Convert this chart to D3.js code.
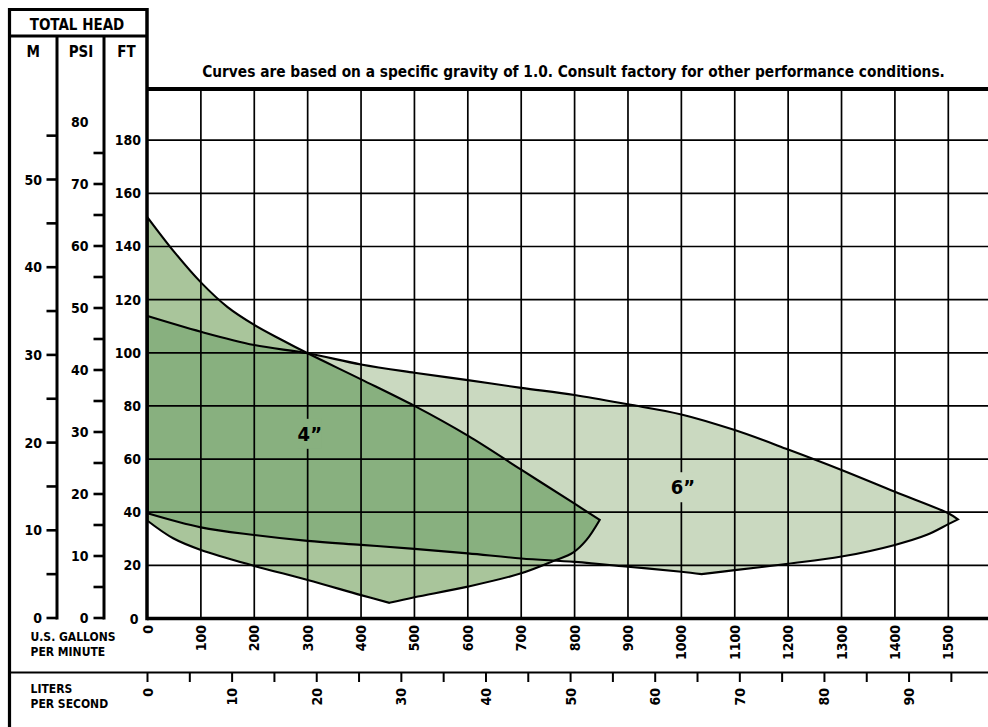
<!DOCTYPE html>
<html><head><meta charset="utf-8">
<script src="https://cdn.jsdelivr.net/npm/d3@7"></script>
<style>
html,body{margin:0;padding:0;background:#fff;}
svg{display:block;}
</style></head>
<body>
<svg id="chart" width="988" height="727"></svg>
<script>
// ---------- data ----------
const gpmTicks = [0,100,200,300,400,500,600,700,800,900,1000,1100,1200,1300,1400,1500];
const ftTicks = [0,20,40,60,80,100,120,140,160,180];
const ftGrid = [20,40,60,80,100,120,140,160,180];
const mTicks = [0,5,10,15,20,25,30,35,40,45,50,55];
const mLabels = [0,10,20,30,40,50];
const psiTicks = [0,5,10,15,20,25,30,35,40,45,50,55,60,65,70,75];
const psiLabels = [0,10,20,30,40,50,60,70,80];
const lpsTicks = [0,5,10,15,20,25,30,35,40,45,50,55,60,65,70,75,80,85,90,95];
const lpsLabels = [0,10,20,30,40,50,60,70,80,90];
const GPM_PER_LPS = 15.85;

// 4" pump range (gpm, ft)
const pump4Upper = [[0,151],[50,138],[100,126.5],[150,117.2],[200,110.5],[250,105],[300,99.8],[400,90],[500,80],[600,68.8],[700,56],[800,43.2],[847,37.1]];
const pump4Lower = [[0,36.8],[48,30.2],[100,25.8],[200,19.8],[300,14.5],[400,8.8],[453,5.9],[500,8.0],[600,12.0],[700,17.0],[760,21.6],[797,24.8],[822,29.5],[847,37.1]];
// 6" pump range (gpm, ft)
const pump6Upper = [[0,113.8],[100,107.9],[200,102.9],[300,99.8],[400,95.6],[500,92.5],[600,89.7],[700,86.8],[800,84.1],[900,80.6],[1000,76.8],[1100,70.9],[1200,63.6],[1300,55.9],[1400,47.7],[1500,39.6],[1518,37.3]];
const pump6Lower = [[0,39.6],[100,34.3],[200,31.4],[300,29.2],[400,27.7],[500,26.2],[600,24.5],[700,22.6],[800,21.3],[900,19.5],[1000,17.6],[1038,16.7],[1100,18.2],[1200,20.6],[1300,23.3],[1400,27.7],[1460,31.5],[1500,35.5],[1518,37.3]];
const seriesLabels = [{text:"4\u201D", gpm:304, ft:69.5}, {text:"6\u201D", gpm:1003, ft:49.4}];
const titleText = "Curves are based on a specific gravity of 1.0. Consult factory for other performance conditions.";

// ---------- layout ----------
const W = 988, H = 727;
const plotLeft = 147, plotTop = 89, plotBottom = 618.5, plotRight = 988;
const frameLeft = 9.5, frameTop = 9.5, headDiv = 36, colM = 57, colPsi = 104, lpsLine = 672.5;
const TXT = "'DejaVu Sans Condensed','DejaVu Sans',sans-serif";
const NUM = "'DejaVu Sans Condensed','DejaVu Sans',sans-serif";
const C6 = "#cad9c0", C4 = "#a9c59b", CBOTH = "#88b07f";

const svg = d3.select("#chart");

const x = d3.scaleLinear().domain([0,1500]).range([147.5, 948.3]);
const y = d3.scaleLinear().domain([0,180]).range([618.5, 140.2]);
const yM = d3.scaleLinear().domain([0,50]).range([618, 179.5]);
const yPsi = d3.scaleLinear().domain([0,80]).range([618, 122]);
const xLps = v => x(v * GPM_PER_LPS);

// shape paths
const gen = d3.line().x(d=>x(d[0])).y(d=>y(d[1])).curve(d3.curveCatmullRom.alpha(0.5));
function regionPath(upper, lower){
  const k = d3.minIndex(lower, d=>d[1]);
  const left = lower.slice(0, k+1), right = lower.slice(k);
  return gen(upper)
    + gen(right.slice().reverse()).replace(/^M/, "L")
    + gen(left.slice().reverse()).replace(/^M/, "L") + "Z";
}
const p4 = regionPath(pump4Upper, pump4Lower);
const p6 = regionPath(pump6Upper, pump6Lower);

const defs = svg.append("defs");
defs.append("clipPath").attr("id","clip4").append("path").attr("d", p4);

const gFill = svg.append("g");
gFill.append("path").attr("d", p6).attr("fill", C6);
gFill.append("path").attr("d", p4).attr("fill", C4);
gFill.append("path").attr("d", p6).attr("fill", CBOTH).attr("clip-path","url(#clip4)");

// grid
const gGrid = svg.append("g").attr("stroke","#000").attr("stroke-width",1.7);
gGrid.selectAll("line.v").data(gpmTicks.filter(d=>d>0)).join("line")
  .attr("x1", d=>x(d)).attr("x2", d=>x(d)).attr("y1", plotTop).attr("y2", plotBottom);
gGrid.selectAll("line.h").data(ftGrid).join("line")
  .attr("x1", plotLeft).attr("x2", plotRight).attr("y1", d=>y(d)).attr("y2", d=>y(d));

// outlines
svg.append("path").attr("d", p6).attr("fill","none").attr("stroke","#000").attr("stroke-width",2.1).attr("stroke-linejoin","miter");
svg.append("path").attr("d", p4).attr("fill","none").attr("stroke","#000").attr("stroke-width",2.1).attr("stroke-linejoin","miter");

// series labels
seriesLabels.forEach((s,i)=>{
  const cx = x(s.gpm), cy = y(s.ft);
  svg.append("rect").attr("x", cx-12).attr("y", cy-15).attr("width", 24).attr("height", 30)
     .attr("fill", i===0 ? CBOTH : C6);
  svg.append("text").attr("x", cx).attr("y", cy).attr("text-anchor","middle").attr("dominant-baseline","central")
     .attr("font-family", TXT).attr("font-weight","bold").attr("font-size",20).text(s.text);
});

// frame lines
const frame = svg.append("g").attr("stroke","#000").attr("fill","none");
frame.append("line").attr("x1",plotLeft).attr("x2",plotRight).attr("y1",plotTop).attr("y2",plotTop).attr("stroke-width",4);
frame.append("line").attr("x1",plotLeft).attr("x2",plotRight).attr("y1",plotBottom).attr("y2",plotBottom).attr("stroke-width",3.5);
frame.append("line").attr("x1",plotLeft).attr("x2",plotLeft).attr("y1",frameTop-1.5).attr("y2",plotBottom+1.7).attr("stroke-width",3.5);
frame.append("line").attr("x1",frameLeft).attr("x2",frameLeft).attr("y1",frameTop-1.5).attr("y2",H).attr("stroke-width",3.2);
frame.append("line").attr("x1",frameLeft).attr("x2",plotLeft).attr("y1",frameTop).attr("y2",frameTop).attr("stroke-width",3.2);
frame.append("line").attr("x1",frameLeft).attr("x2",plotLeft).attr("y1",headDiv).attr("y2",headDiv).attr("stroke-width",3);
frame.append("line").attr("x1",colM).attr("x2",colM).attr("y1",headDiv).attr("y2",plotBottom+1).attr("stroke-width",3);
frame.append("line").attr("x1",colPsi).attr("x2",colPsi).attr("y1",headDiv).attr("y2",plotBottom+1).attr("stroke-width",3);
frame.append("line").attr("x1",frameLeft).attr("x2",plotRight).attr("y1",lpsLine).attr("y2",lpsLine).attr("stroke-width",2);

// header texts
const hdr = svg.append("g").attr("font-family",TXT).attr("font-weight","bold").attr("fill","#000").attr("text-anchor","middle");
hdr.append("text").attr("x",77).attr("y",30).attr("font-size",15).text("TOTAL HEAD");
hdr.append("text").attr("x",33.3).attr("y",56.5).attr("font-size",15).text("M");
hdr.append("text").attr("x",81).attr("y",56.5).attr("font-size",15).text("PSI");
hdr.append("text").attr("x",126.5).attr("y",56.5).attr("font-size",15).text("FT");

// title
svg.append("text").attr("x",573.5).attr("y",76.5).attr("text-anchor","middle")
  .attr("font-family",TXT).attr("font-weight","bold").attr("font-size",15.3).text(titleText);

// M axis
const gm = svg.append("g");
gm.selectAll("line").data(mTicks).join("line").attr("x1",46.5).attr("x2",colM).attr("y1",d=>yM(d)).attr("y2",d=>yM(d))
  .attr("stroke","#000").attr("stroke-width",2.6);
gm.selectAll("text").data(mLabels).join("text").attr("x",42).attr("y",d=>yM(d)).attr("text-anchor","end")
  .attr("dominant-baseline","central").attr("font-family",NUM).attr("font-weight","bold").attr("font-size",14).text(d=>d);

// PSI axis
const gp = svg.append("g");
gp.selectAll("line").data(psiTicks).join("line").attr("x1",93.5).attr("x2",colPsi).attr("y1",d=>yPsi(d)).attr("y2",d=>yPsi(d))
  .attr("stroke","#000").attr("stroke-width",2.6);
gp.selectAll("text").data(psiLabels).join("text").attr("x",88.5).attr("y",d=>yPsi(d)).attr("text-anchor","end")
  .attr("dominant-baseline","central").attr("font-family",NUM).attr("font-weight","bold").attr("font-size",14).text(d=>d);

// FT axis labels
const gf = svg.append("g");
gf.selectAll("text").data(ftTicks).join("text").attr("x",d=>d===0?138.5:141).attr("y",d=>y(d)).attr("text-anchor","end")
  .attr("dominant-baseline","central").attr("font-family",NUM).attr("font-weight","bold").attr("font-size",14).text(d=>d);

// GPM axis labels (rotated)
const gg = svg.append("g");
gg.selectAll("text").data(gpmTicks).join("text")
  .attr("transform", d=>`translate(${x(d)},625) rotate(-90)`)
  .attr("text-anchor","end").attr("dominant-baseline","central")
  .attr("font-family",NUM).attr("font-weight","bold").attr("font-size",14).text(d=>d);

// LPS axis
const gl = svg.append("g");
gl.selectAll("line").data(lpsTicks).join("line").attr("x1",d=>xLps(d)).attr("x2",d=>xLps(d)).attr("y1",lpsLine).attr("y2",682)
  .attr("stroke","#000").attr("stroke-width",2);
gl.selectAll("text").data(lpsLabels).join("text")
  .attr("transform", d=>`translate(${xLps(d)},688) rotate(-90)`)
  .attr("text-anchor","end").attr("dominant-baseline","central")
  .attr("font-family",NUM).attr("font-weight","bold").attr("font-size",14).text(d=>d);

// unit captions
const cap = svg.append("g").attr("font-family",TXT).attr("font-weight","bold").attr("font-size",12);
cap.append("text").attr("x",30.5).attr("y",640.5).text("U.S. GALLONS");
cap.append("text").attr("x",30.5).attr("y",656).text("PER MINUTE");
cap.append("text").attr("x",30.5).attr("y",692.5).text("LITERS");
cap.append("text").attr("x",30.5).attr("y",708).text("PER SECOND");
</script>
</body></html>
